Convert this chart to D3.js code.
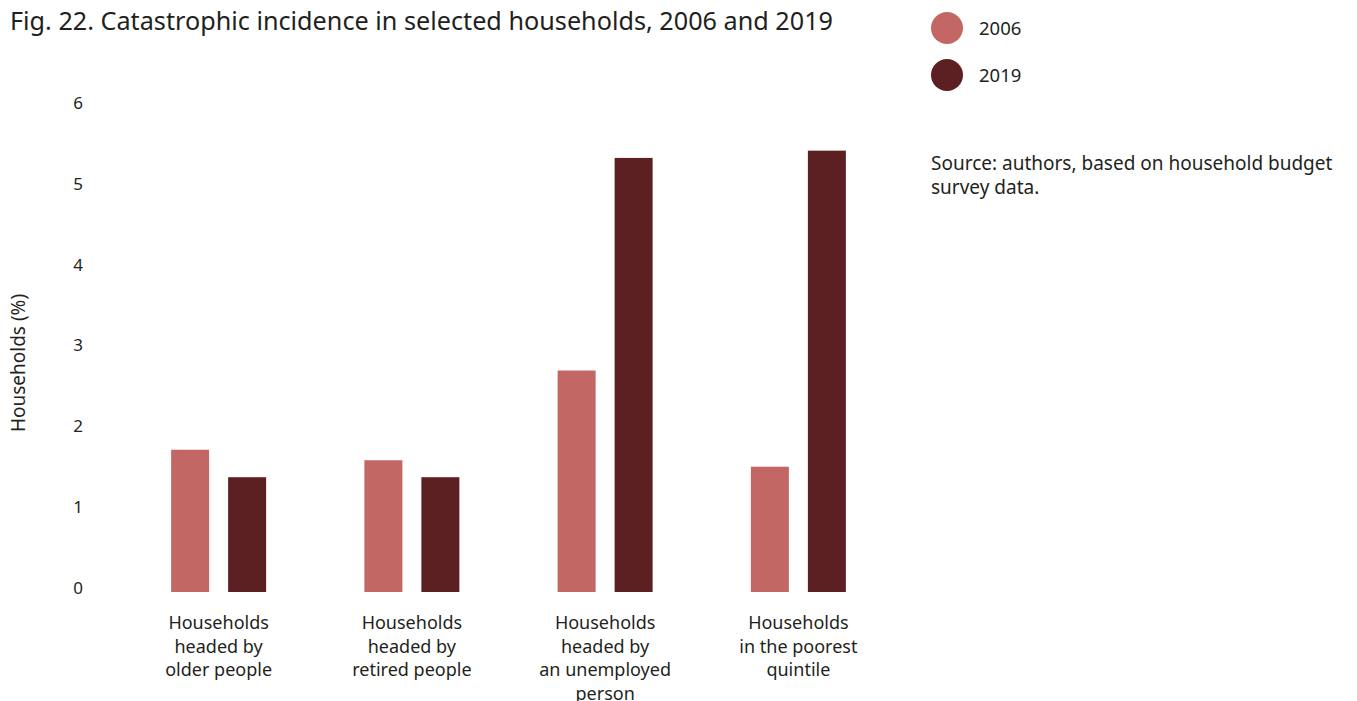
<!DOCTYPE html>
<html>
<head>
<meta charset="utf-8">
<script src="https://cdn.jsdelivr.net/npm/d3@7"></script>
<style>
  html, body { margin: 0; padding: 0; background: #fff; }
  svg { display: block; font-family: "Noto Sans", "Open Sans", sans-serif; }
</style>
</head>
<body>
<svg id="chart" width="1357" height="701"></svg>
<script>
// Catastrophic incidence (% of households) by household type
const categories = [
  ["Households", "headed by", "older people"],
  ["Households", "headed by", "retired people"],
  ["Households", "headed by", "an unemployed", "person"],
  ["Households", "in the poorest", "quintile"]
];
const years = ["2006", "2019"];
const values2006 = [1.76, 1.63, 2.74, 1.55];
const values2019 = [1.42, 1.42, 5.37, 5.46];
const yTicks = [0, 1, 2, 3, 4, 5, 6];
const colors = { "2006": "#C26763", "2019": "#5C1F22" };
const textColor = "#231F20";

const svg = d3.select("#chart");

const x0 = d3.scaleBand()
  .domain(d3.range(categories.length))
  .range([122, 895])
  .paddingInner(0)
  .paddingOuter(0);
const groupWidth = 95;
const x1 = d3.scaleBand()
  .domain(years)
  .range([0, groupWidth])
  .paddingInner(1 / 3);
const y = d3.scaleLinear().domain([0, 6]).range([592, 107]);

const series = { "2006": values2006, "2019": values2019 };
const rows = [];
categories.forEach((c, i) => {
  years.forEach(yr => rows.push({ i, year: yr, value: series[yr][i] }));
});

// Bars
svg.append("g").selectAll("rect")
  .data(rows)
  .join("rect")
  .attr("x", d => x0(d.i) + (x0.bandwidth() - groupWidth) / 2 + x1(d.year))
  .attr("y", d => y(d.value))
  .attr("width", x1.bandwidth())
  .attr("height", d => y(0) - y(d.value))
  .attr("fill", d => colors[d.year]);

// Y axis: labels only
const yAxis = d3.axisLeft(y).tickValues(yTicks).tickSize(0).tickPadding(0)
  .tickFormat(d3.format("d"));
const yg = svg.append("g").attr("transform", "translate(78,-4)").call(yAxis);
yg.select(".domain").remove();
yg.selectAll("text")
  .attr("text-anchor", "middle")
  .attr("x", 0)
  .attr("fill", textColor)
  .style("font-size", "17px")
  .style("font-family", "'Noto Sans', sans-serif");

// Y axis title
svg.append("text")
  .attr("transform", "translate(25,363) rotate(-90)")
  .attr("text-anchor", "middle")
  .attr("fill", textColor)
  .style("font-size", "19px")
  .text("Households (%)");

// X category labels
const xl = svg.append("g").selectAll("text")
  .data(categories)
  .join("text")
  .attr("text-anchor", "middle")
  .attr("fill", textColor)
  .style("font-size", "18px")
  .attr("transform", (d, i) => `translate(${x0(i) + x0.bandwidth() / 2},629)`);
xl.selectAll("tspan")
  .data(d => d)
  .join("tspan")
  .attr("x", 0)
  .attr("y", (d, j) => j * 23.5)
  .text(d => d);

// Title
svg.append("text")
  .attr("x", 10)
  .attr("y", 30)
  .attr("fill", textColor)
  .attr("textLength", 823)
  .attr("lengthAdjust", "spacingAndGlyphs")
  .style("font-size", "25px")
  .text("Fig. 22. Catastrophic incidence in selected households, 2006 and 2019");

// Legend
const lg = svg.append("g").selectAll("g")
  .data(years)
  .join("g")
  .attr("transform", (d, i) => `translate(947,${28 + i * 47})`);
lg.append("circle").attr("r", 16).attr("fill", d => colors[d]);
lg.append("text")
  .attr("x", 32)
  .attr("y", 6.5)
  .attr("fill", textColor)
  .style("font-size", "18.5px")
  .text(d => d);

// Source note
const src = svg.append("text")
  .attr("fill", textColor)
  .style("font-size", "19px");
["Source: authors, based on household budget", "survey data."].forEach((t, j) => {
  src.append("tspan").attr("x", 931).attr("y", 170 + j * 24).text(t);
});
</script>
</body>
</html>
